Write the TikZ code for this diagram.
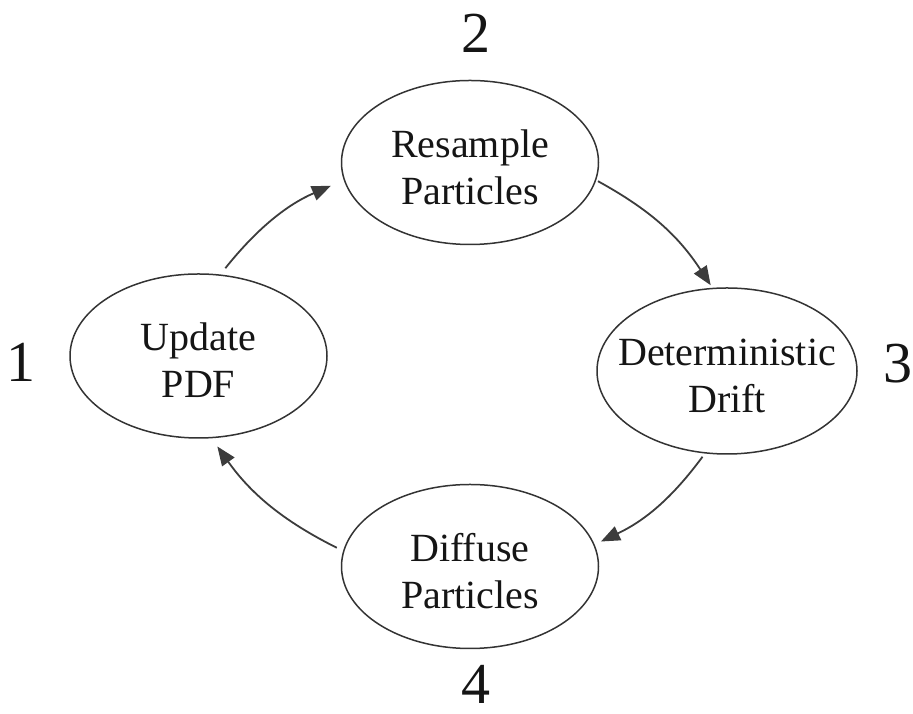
\documentclass[tikz,border=0pt]{standalone}
\usepackage{fontspec}
\setmainfont{Liberation Serif}
\usetikzlibrary{shapes.geometric,arrows.meta}

\definecolor{inkline}{HTML}{333333}
\definecolor{inkarrow}{HTML}{3C3C3C}
\definecolor{inktext}{HTML}{151515}

\tikzset{
  stage/.style={ellipse, draw=inkline, line width=1.5pt, text=inktext,
    inner xsep=-20pt, inner ysep=0pt, minimum width=257pt, minimum height=164pt,
    text height=84pt, align=center, font=\fontsize{40}{47}\selectfont},
  stagenum/.style={text=inktext, inner sep=0pt, font=\fontsize{58}{58}\selectfont},
  flow/.style={draw=inkarrow, line width=1.8pt,
    -{Triangle[length=19pt,width=15pt]}, bend left=14}
}

\begin{document}
\begin{tikzpicture}[x=1pt,y=1pt]
  \useasboundingbox (0,0) rectangle (913,714);

  % the four stages of the cycle
  \node[stage] (upd)   at (198.5,358) {Update\\PDF};
  \node[stage] (res)   at (470,551.5) {Resample\\Particles};
  \node[stage, minimum width=260pt, minimum height=166pt] (drift) at (727,343) {Deterministic\\Drift};
  \node[stage] (diff)  at (470,147.5) {Diffuse\\Particles};

  % step numbers
  \node[stagenum] (n1) at (21,352) {1};
  \node[stagenum] (n2) at (476,681) {2};
  \node[stagenum] (n3) at (898,350) {3};
  \node[stagenum] (n4) at (476,30) {4};

  % clockwise flow between the stages
  \draw[flow, shorten <=8pt, shorten >=14pt] (upd.75) to (res.188);
  \draw[flow, shorten <=2pt, shorten >=3pt] (res.-8) to (drift.100);
  \draw[flow, shorten <=4pt, shorten >=7pt] (drift.255) to (diff.10);
  \draw[flow, shorten <=7pt, shorten >=10pt] (diff.173) to (upd.-81);
\end{tikzpicture}
\end{document}
